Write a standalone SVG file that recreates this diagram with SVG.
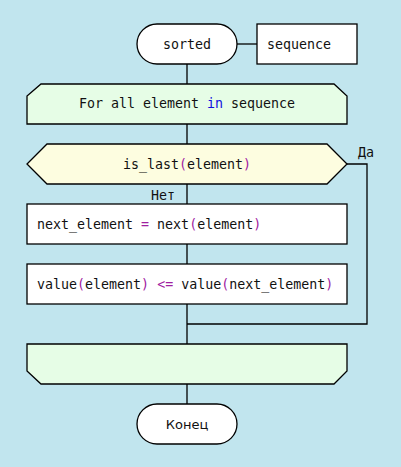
<svg xmlns="http://www.w3.org/2000/svg" width="401" height="467" viewBox="0 0 401 467">
<style>
.ln{stroke:#000;stroke-width:1.3;fill:none}
.nd{stroke:#000;stroke-width:1.3}
.t{font-family:"DejaVu Sans Mono","Liberation Mono",monospace;font-size:13.3px;fill:#111}
.s{font-family:"DejaVu Sans","Liberation Sans",sans-serif;font-size:13px;fill:#111}
.p{fill:#a020a0}
.k{fill:#1010e0}
</style>
<rect x="0" y="0" width="401" height="467" fill="#c1e5ee"/>
<g id="connectors">
<path class="ln" d="M187 64V84M187 124V144M187 184V204M187 244V264M187 304V344M187 384V404"/>
<path class="ln" d="M237 44H257"/>
<path class="ln" d="M347 164H367V324H187"/>
</g>
<g id="start">
<rect class="nd" x="137" y="24" width="100" height="40" rx="20" fill="#fff"/>
<text class="t" x="187" y="48.5" text-anchor="middle">sorted</text>
</g>
<g id="param">
<rect class="nd" x="257" y="24" width="100" height="40" fill="#fff"/>
<text class="t" x="267" y="48.5">sequence</text>
</g>
<g id="loop_begin">
<path class="nd" d="M41 84H334L347 96V124H27V96Z" fill="#e6fde6"/>
<text class="t" x="187" y="108" text-anchor="middle">For all element <tspan class="k">in</tspan> sequence</text>
</g>
<g id="decision">
<path class="nd" d="M47 144H327L347 164L327 184H47L27 164Z" fill="#fdfde0"/>
<text class="t" x="187" y="168.5" text-anchor="middle">is_last<tspan class="p">(</tspan>element<tspan class="p">)</tspan></text>
<text class="t" x="358" y="157">Да</text>
<text class="t" x="175" y="200" text-anchor="end">Нет</text>
</g>
<g id="assign">
<rect class="nd" x="27" y="204" width="320" height="40" fill="#fff"/>
<text class="t" x="37" y="228.5">next_element <tspan class="p">=</tspan> next<tspan class="p">(</tspan>element<tspan class="p">)</tspan></text>
</g>
<g id="compare">
<rect class="nd" x="27" y="264" width="320" height="40" fill="#fff"/>
<text class="t" x="37" y="288.5">value<tspan class="p">(</tspan>element<tspan class="p">)</tspan> <tspan class="p">&lt;=</tspan> value<tspan class="p">(</tspan>next_element<tspan class="p">)</tspan></text>
</g>
<g id="loop_end">
<path class="nd" d="M27 344H347V371L334 384H41L27 371Z" fill="#e6fde6"/>
</g>
<g id="end">
<rect class="nd" x="137" y="404" width="100" height="40" rx="20" fill="#fff"/>
<text class="s" x="187" y="429" text-anchor="middle">Конец</text>
</g>
</svg>
